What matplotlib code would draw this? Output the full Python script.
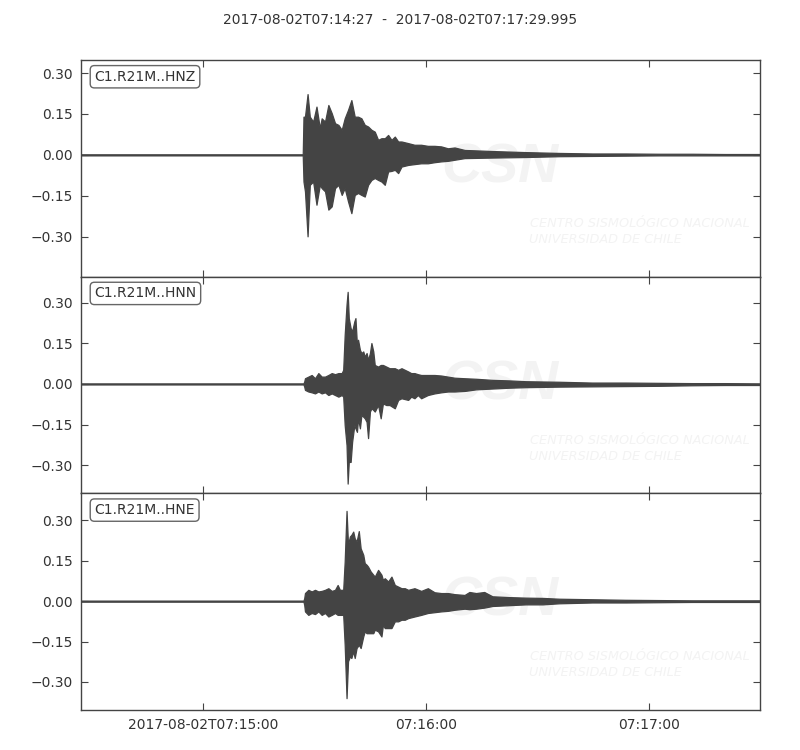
import matplotlib
matplotlib.use("Agg")
import matplotlib.pyplot as plt
from matplotlib.ticker import FixedLocator, FixedFormatter, NullFormatter

plt.rcParams.update({"font.family": "DejaVu Sans", "font.size": 10})

# --- tiempos (s desde 2017-08-02T07:14:27) ---------------------------------
T_INICIO = "2017-08-02T07:14:27"
T_FIN = "2017-08-02T07:17:29.995"
DURACION = 182.995

X_TICKS = [33, 93, 153]
X_LABELS = ["2017-08-02T07:15:00", "07:16:00", "07:17:00"]
Y_TICKS = [-0.30, -0.15, 0.0, 0.15, 0.30]
Y_LABELS = ["\u22120.30", "\u22120.15", "0.00", "0.15", "0.30"]

CANALES = ["C1.R21M..HNZ", "C1.R21M..HNN", "C1.R21M..HNE"]

# envolvente (max / min por tramo)
hnz_t = [0.0, 59.8, 60.0, 60.4, 61.1, 61.7, 62.6, 63.5, 64.4, 64.9, 65.8, 66.7,
         67.6, 68.5, 69.4, 70.3, 71.1, 72.0, 72.9, 73.8, 74.7, 75.6, 76.5, 77.4,
         78.3, 79.2, 80.1, 81.0, 81.9, 82.8, 83.7, 84.6, 85.5, 86.4, 88.2, 89.9,
         91.7, 93.5, 95.3, 97.1, 98.9, 100.7, 103.4, 110.9, 119.9, 128.9, 137.8,
         146.8, 155.7, 164.7, 173.6, 183.0]
hnz_max = [0.002, 0.002, 0.140, 0.140, 0.223, 0.140, 0.122, 0.177, 0.098, 0.134,
           0.122, 0.183, 0.153, 0.116, 0.110, 0.092, 0.134, 0.165, 0.201, 0.140,
           0.140, 0.134, 0.110, 0.104, 0.092, 0.085, 0.055, 0.061, 0.061, 0.073,
           0.055, 0.067, 0.049, 0.049, 0.043, 0.037, 0.037, 0.033, 0.033, 0.031,
           0.024, 0.027, 0.018, 0.014, 0.010, 0.007, 0.005, 0.005, 0.004, 0.004,
           0.003, 0.003]
hnz_min = [-0.002, -0.002, -0.098, -0.134, -0.299, -0.110, -0.098, -0.183, -0.110,
           -0.122, -0.134, -0.201, -0.189, -0.122, -0.110, -0.147, -0.122, -0.171,
           -0.214, -0.147, -0.140, -0.147, -0.153, -0.110, -0.092, -0.085, -0.092,
           -0.098, -0.110, -0.061, -0.059, -0.055, -0.067, -0.043, -0.037, -0.034,
           -0.031, -0.031, -0.027, -0.024, -0.022, -0.018, -0.012, -0.010, -0.008,
           -0.005, -0.004, -0.003, -0.002, -0.002, -0.002, -0.002]

hnn_t = [0.0, 60.0, 60.2, 60.4, 61.3, 62.2, 63.1, 64.0, 64.9, 65.8, 66.7, 67.6,
         68.5, 69.4, 70.3, 70.7, 71.1, 71.6, 71.9, 72.2, 72.7, 73.1, 73.7, 74.0,
         74.4, 74.7, 75.2, 75.6, 76.1, 76.5, 77.0, 77.4, 77.9, 78.3, 78.8, 79.2,
         80.1, 80.8, 81.4, 82.3, 83.2, 84.6, 85.5, 86.4, 88.2, 89.0, 89.9, 90.8,
         91.7, 93.5, 95.3, 97.1, 98.9, 100.7, 103.4, 106.5, 110.9, 115.4, 119.9,
         128.9, 137.8, 146.8, 155.7, 164.7, 173.6, 183.0]
hnn_max = [0.002, 0.002, 0.009, 0.021, 0.027, 0.033, 0.021, 0.040, 0.027, 0.027,
           0.033, 0.040, 0.036, 0.040, 0.040, 0.052, 0.181, 0.293, 0.340, 0.243,
           0.206, 0.194, 0.231, 0.243, 0.144, 0.163, 0.126, 0.114, 0.120, 0.101,
           0.114, 0.089, 0.114, 0.151, 0.120, 0.070, 0.064, 0.070, 0.070, 0.064,
           0.058, 0.058, 0.052, 0.058, 0.046, 0.040, 0.040, 0.036, 0.033, 0.033,
           0.033, 0.031, 0.027, 0.023, 0.021, 0.019, 0.015, 0.013, 0.010, 0.008,
           0.005, 0.005, 0.004, 0.003, 0.003, 0.002]
hnn_min = [-0.002, -0.002, -0.010, -0.022, -0.028, -0.031, -0.035, -0.028, -0.035,
           -0.031, -0.041, -0.035, -0.041, -0.047, -0.041, -0.047, -0.152, -0.226,
           -0.368, -0.288, -0.288, -0.214, -0.152, -0.164, -0.177, -0.127, -0.164,
           -0.115, -0.121, -0.127, -0.140, -0.200, -0.102, -0.090, -0.096, -0.102,
           -0.078, -0.127, -0.072, -0.078, -0.078, -0.090, -0.059, -0.053, -0.059,
           -0.047, -0.053, -0.041, -0.053, -0.041, -0.035, -0.031, -0.028, -0.028,
           -0.026, -0.020, -0.017, -0.014, -0.012, -0.010, -0.009, -0.008, -0.007,
           -0.005, -0.004, -0.004]

hne_t = [0.0, 60.0, 60.2, 60.4, 61.3, 62.2, 63.1, 64.0, 64.9, 65.8, 66.7, 67.6,
         68.5, 69.2, 69.8, 70.7, 71.1, 71.6, 72.0, 72.5, 72.9, 73.4, 73.8, 74.3,
         74.9, 75.4, 76.1, 76.5, 77.0, 77.4, 78.1, 78.8, 79.2, 80.1, 81.0, 81.4,
         81.9, 82.8, 83.7, 84.6, 85.5, 86.4, 87.3, 88.2, 89.9, 91.7, 93.5, 95.3,
         97.1, 98.9, 100.7, 103.4, 104.7, 106.5, 108.7, 110.9, 115.4, 119.9,
         124.4, 128.9, 137.8, 146.8, 155.7, 164.7, 173.6, 183.0]
hne_max = [0.002, 0.002, 0.011, 0.030, 0.042, 0.036, 0.042, 0.036, 0.038, 0.042,
           0.048, 0.038, 0.042, 0.060, 0.042, 0.042, 0.147, 0.335, 0.209, 0.240,
           0.246, 0.258, 0.233, 0.221, 0.260, 0.196, 0.172, 0.141, 0.135, 0.128,
           0.110, 0.098, 0.091, 0.116, 0.098, 0.079, 0.085, 0.073, 0.091, 0.060,
           0.054, 0.048, 0.048, 0.042, 0.048, 0.038, 0.048, 0.033, 0.030, 0.030,
           0.026, 0.023, 0.034, 0.030, 0.034, 0.018, 0.015, 0.013, 0.012, 0.009,
           0.007, 0.005, 0.004, 0.003, 0.003, 0.003]
hne_min = [-0.002, -0.002, -0.014, -0.038, -0.051, -0.044, -0.048, -0.038, -0.051,
           -0.044, -0.057, -0.051, -0.044, -0.051, -0.051, -0.051, -0.162, -0.360,
           -0.223, -0.205, -0.211, -0.186, -0.211, -0.174, -0.162, -0.174, -0.131,
           -0.112, -0.119, -0.119, -0.119, -0.119, -0.106, -0.112, -0.131, -0.088,
           -0.100, -0.100, -0.100, -0.075, -0.075, -0.069, -0.069, -0.063, -0.057,
           -0.051, -0.044, -0.041, -0.038, -0.036, -0.032, -0.028, -0.030, -0.028,
           -0.024, -0.018, -0.015, -0.012, -0.012, -0.008, -0.005, -0.005, -0.004,
           -0.003, -0.003, -0.003]

TRAZAS = [(hnz_t, hnz_max, hnz_min), (hnn_t, hnn_max, hnn_min),
          (hne_t, hne_max, hne_min)]
YLIMS = [(-0.447, 0.348), (-0.404, 0.396), (-0.404, 0.400)]

COLOR = "#444444"
MARCA = "#f3f3f3"


def marca_agua(ax):
    """Logo CSN muy tenue detras de la traza."""
    ax.text(0.617, 0.50, "CSN", transform=ax.transAxes, ha="center",
            va="center", fontsize=40, fontweight="bold", style="italic",
            family="Liberation Sans", color=MARCA, zorder=0, clip_on=True)
    ax.text(0.662, 0.245, "CENTRO SISMOLÓGICO NACIONAL", transform=ax.transAxes,
            ha="left", va="center", fontsize=9.3, style="italic",
            color=MARCA, zorder=0, clip_on=True)
    ax.text(0.660, 0.172, "UNIVERSIDAD DE CHILE", transform=ax.transAxes,
            ha="left", va="center", fontsize=9.3, style="italic",
            color=MARCA, zorder=0, clip_on=True)


fig = plt.figure(figsize=(8.0, 7.5), dpi=100)
izq, der, arriba, abajo = 0.101, 0.950, 0.920, 0.0533
alto = (arriba - abajo) / 3

for i, (canal, (t, ymax, ymin)) in enumerate(zip(CANALES, TRAZAS)):
    ax = fig.add_axes([izq, arriba - (i + 1) * alto, der - izq, alto])
    marca_agua(ax)
    ax.fill_between(t, ymin, ymax, color=COLOR, lw=0.9, edgecolor=COLOR,
                    zorder=2)
    ax.set_xlim(0, DURACION)
    ax.set_ylim(*YLIMS[i])
    ax.yaxis.set_major_locator(FixedLocator(Y_TICKS))
    ax.yaxis.set_major_formatter(FixedFormatter(Y_LABELS))
    ax.xaxis.set_major_locator(FixedLocator(X_TICKS))
    if i == 2:
        ax.xaxis.set_major_formatter(FixedFormatter(X_LABELS))
    else:
        ax.xaxis.set_major_formatter(NullFormatter())
    ax.tick_params(direction="in", top=True, right=True, length=5, width=0.8,
                   color="#444444", labelcolor="#333333", labelsize=10, pad=6)
    for sp in ax.spines.values():
        sp.set_color("#444444")
        sp.set_linewidth(1.0)
    ax.text(0.02, 0.955, canal, transform=ax.transAxes, ha="left", va="top",
            color="#333333", fontsize=10, zorder=5,
            bbox=dict(boxstyle="round,pad=0.3", facecolor="white",
                      edgecolor="#666666", linewidth=1.0))

fig.text(0.5, 0.973, f"{T_INICIO}  -  {T_FIN}", ha="center", va="center",
         color="#333333", fontsize=10)

fig.savefig("out.png", dpi=100)
